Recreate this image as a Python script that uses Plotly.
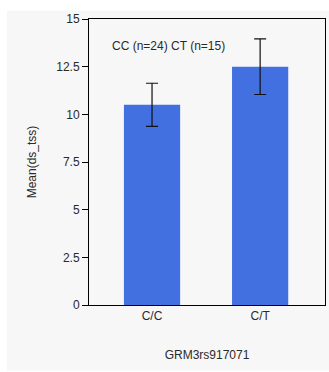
import plotly.graph_objects as go

categories = ["C/C", "C/T"]
means = [10.5, 12.5]
errors = [1.13, 1.46]
y_ticks = [0, 2.5, 5, 7.5, 10, 12.5, 15]
y_tick_text = ["0", "2.5", "5", "7.5", "10", "12.5", "15"]
annotation_text = "CC (n=24) CT (n=15)"

fig = go.Figure()
fig.add_trace(go.Bar(
    x=categories, y=means,
    marker=dict(color="#4270e0", line=dict(width=0)),
    width=0.52,
    error_y=dict(type="data", array=errors, visible=True, color="#111111", thickness=1.2, width=6),
))

fig.add_shape(type="rect", xref="paper", yref="paper", x0=-0.347, x1=1.02, y0=-0.23, y1=1.03,
              fillcolor="#f7f7f7", line=dict(width=0), layer="below")

fig.add_annotation(text=annotation_text, xref="paper", yref="paper", x=0.09, y=0.905,
                   xanchor="left", yanchor="middle", showarrow=False,
                   font=dict(family="Liberation Sans, Arial", size=12, color="#2a2a2a"))

fig.update_layout(
    width=329, height=372,
    margin=dict(l=89, r=4, t=19, b=67),
    paper_bgcolor="white",
    plot_bgcolor="white",
    showlegend=False,
    font=dict(family="Liberation Sans, Arial", size=12, color="#2a2a2a"),
    xaxis=dict(range=[-0.583, 1.6], showline=True, linecolor="black", linewidth=1, mirror=True,
               ticks="", showgrid=False, zeroline=False,
               title=dict(text="GRM3rs917071", standoff=28, font=dict(size=12, color="#2a2a2a"))),
    yaxis=dict(range=[0, 15], tickvals=y_ticks, ticktext=y_tick_text, showline=True, linecolor="black",
               linewidth=1, mirror=True, ticks="outside", ticklen=6, tickcolor="black",
               showgrid=False, zeroline=False,
               title=dict(text="Mean(ds_tss)", standoff=17, font=dict(size=12, color="#2a2a2a"))),
)

fig.write_html("out.html")
